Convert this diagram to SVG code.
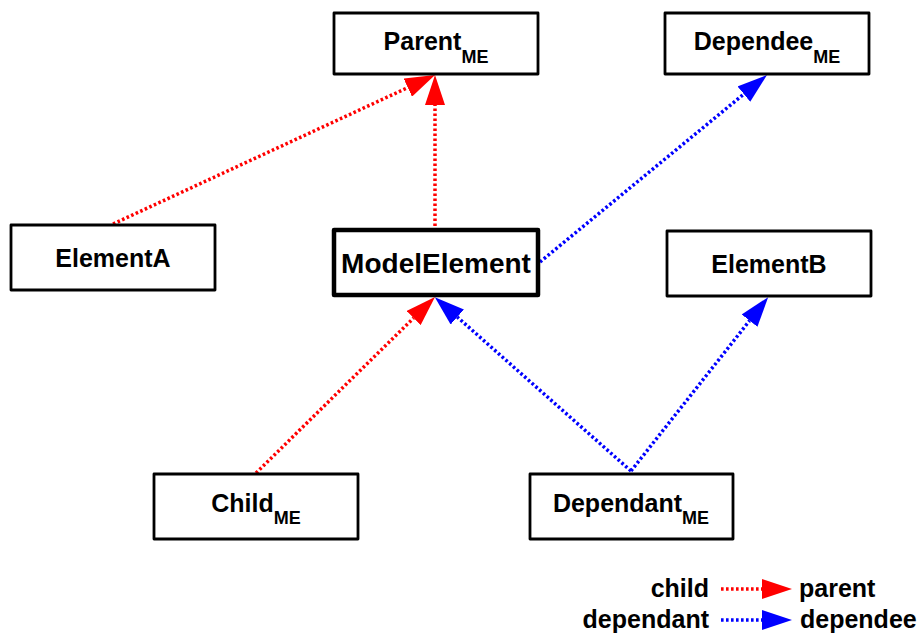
<svg xmlns="http://www.w3.org/2000/svg" width="921" height="635" viewBox="0 0 921 635">
  <style>
    .box { fill: #fff; stroke: #000; stroke-width: 2.8; stroke-linejoin: round; }
    .main { stroke-width: 4.5; }
    .lbl { font-family: "Liberation Sans", Arial, sans-serif; font-weight: bold; font-size: 25px; fill: #000; }
    .sub { font-size: 18px; }
    .big { font-size: 28px; }
    .red { stroke: #f00; stroke-width: 3.5; stroke-dasharray: 2.6 2.4; fill: none; }
    .blue { stroke: #00f; stroke-width: 3.5; stroke-dasharray: 2.6 2.4; fill: none; }
  </style>
  <defs>
    <marker id="headRed" viewBox="0 0 30 20" refX="0" refY="10" markerWidth="30" markerHeight="20" markerUnits="userSpaceOnUse" orient="auto">
      <path d="M0,0 L30,10 L0,20 z" fill="#f00"/>
    </marker>
    <marker id="headBlue" viewBox="0 0 30 20" refX="0" refY="10" markerWidth="30" markerHeight="20" markerUnits="userSpaceOnUse" orient="auto">
      <path d="M0,0 L30,10 L0,20 z" fill="#00f"/>
    </marker>
  </defs>

  <g id="connectors">
    <line class="red" x1="113" y1="224" x2="407.8" y2="87.6" marker-end="url(#headRed)"/>
    <line class="red" x1="435" y1="226" x2="435" y2="105" marker-end="url(#headRed)"/>
    <line class="blue" x1="540" y1="262" x2="743.85" y2="94.07" marker-end="url(#headBlue)"/>
    <line class="red" x1="256" y1="473" x2="413.6" y2="318" marker-end="url(#headRed)"/>
    <line class="blue" x1="631" y1="471" x2="457.3" y2="317.05" marker-end="url(#headBlue)"/>
    <line class="blue" x1="631" y1="471" x2="749.57" y2="320.68" marker-end="url(#headBlue)"/>
  </g>

  <g id="parent">
    <rect class="box" x="334" y="13" width="204" height="61"/>
    <text class="lbl" x="436" y="50" text-anchor="middle">Parent<tspan class="sub" dy="13">ME</tspan></text>
  </g>
  <g id="dependee">
    <rect class="box" x="665" y="13" width="204" height="61"/>
    <text class="lbl" x="767" y="50" text-anchor="middle">Dependee<tspan class="sub" dy="13">ME</tspan></text>
  </g>
  <g id="elementA">
    <rect class="box" x="11" y="225" width="204" height="65"/>
    <text class="lbl" x="113" y="267" text-anchor="middle">ElementA</text>
  </g>
  <g id="modelElement">
    <rect class="box main" x="334" y="230" width="204" height="65"/>
    <text class="lbl big" x="436" y="272.5" text-anchor="middle">ModelElement</text>
  </g>
  <g id="elementB">
    <rect class="box" x="667" y="231" width="204" height="65"/>
    <text class="lbl" x="769" y="273" text-anchor="middle">ElementB</text>
  </g>
  <g id="child">
    <rect class="box" x="154" y="474" width="204" height="65"/>
    <text class="lbl" x="256" y="512" text-anchor="middle">Child<tspan class="sub" dy="12">ME</tspan></text>
  </g>
  <g id="dependant">
    <rect class="box" x="530" y="474" width="203" height="65"/>
    <text class="lbl" x="631" y="512" text-anchor="middle">Dependant<tspan class="sub" dy="12">ME</tspan></text>
  </g>

  <g id="legend">
    <text class="lbl" x="709" y="597" text-anchor="end">child</text>
    <line class="red" x1="721" y1="589" x2="762" y2="589" marker-end="url(#headRed)"/>
    <text class="lbl" x="799" y="597">parent</text>
    <text class="lbl" x="709" y="628" text-anchor="end">dependant</text>
    <line class="blue" x1="721" y1="620" x2="762" y2="620" marker-end="url(#headBlue)"/>
    <text class="lbl" x="800" y="628">dependee</text>
  </g>
</svg>
